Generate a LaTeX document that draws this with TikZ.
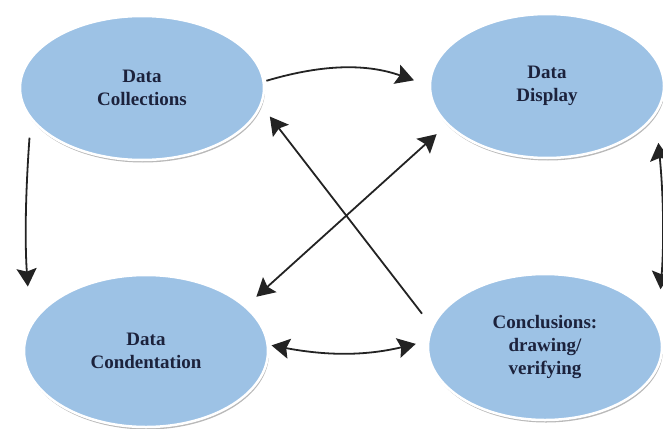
\documentclass[tikz,border=0pt]{standalone}
\usepackage{fontspec}
\setmainfont{Liberation Serif}
\usetikzlibrary{shapes.geometric,shadows,arrows.meta}
\definecolor{ovalblue}{RGB}{157,194,229}
\definecolor{ovaltext}{RGB}{28,34,60}
\definecolor{arrowgrey}{RGB}{35,35,35}
\tikzset{
    data-oval/.style = {ellipse, fill=ovalblue, draw=white, line width=2.5pt, inner sep=0pt, outer sep=0pt, align=center, text=ovaltext, font=\fontsize{19}{23}\selectfont\bfseries, drop shadow={shadow xshift=1pt, shadow yshift=-2.5pt, fill=black!55, opacity=0.5}},
    flow-arrow/.style = {draw=arrowgrey, line width=1.8pt, -{Stealth[length=18pt,width=20pt,inset=3pt]}},
    flow-both/.style = {flow-arrow, {Stealth[length=18pt,width=20pt,inset=3pt]}-{Stealth[length=18pt,width=20pt,inset=3pt]}},
}

\begin{document}
\begin{tikzpicture}[x=1pt, y=-1pt]
\useasboundingbox (0,0) rectangle (663,428);
\clip (0,0) rectangle (663,428);
\node[data-oval, minimum width=244pt, minimum height=144pt] (collect) at (142,88) {Data\\Collections};
\node[data-oval, minimum width=234pt, minimum height=144pt] (display) at (547,86) {Data\\Display};
\node[data-oval, minimum width=244pt, minimum height=152pt] (condense) at (146,351) {Data\\Condentation};
\node[data-oval, minimum width=234pt, minimum height=146pt] (concl) at (545,347) {Conclusions:\\drawing/\\verifying};

% curved links round the outside
\draw[flow-arrow, shorten <=3pt, shorten >=17pt] (collect.3) to[bend left=18] (display.180);
\draw[flow-arrow, shorten <=20pt, shorten >=40pt] (collect.195) to[bend right=4] (condense.168);
\draw[flow-both, shorten <=30pt, shorten >=38pt] (display.-14) to[bend left=5] (concl.10);
\draw[flow-both, shorten <=4pt, shorten >=13pt] (condense.3) to[bend right=12] (concl.177);

% the two diagonals
\draw[flow-arrow, shorten <=17pt, shorten >=15pt] (concl.170) -- (collect.-8);
\draw[flow-both, shorten <=15pt, shorten >=15pt] (condense.24) -- (display.201);
\end{tikzpicture}
\end{document}
